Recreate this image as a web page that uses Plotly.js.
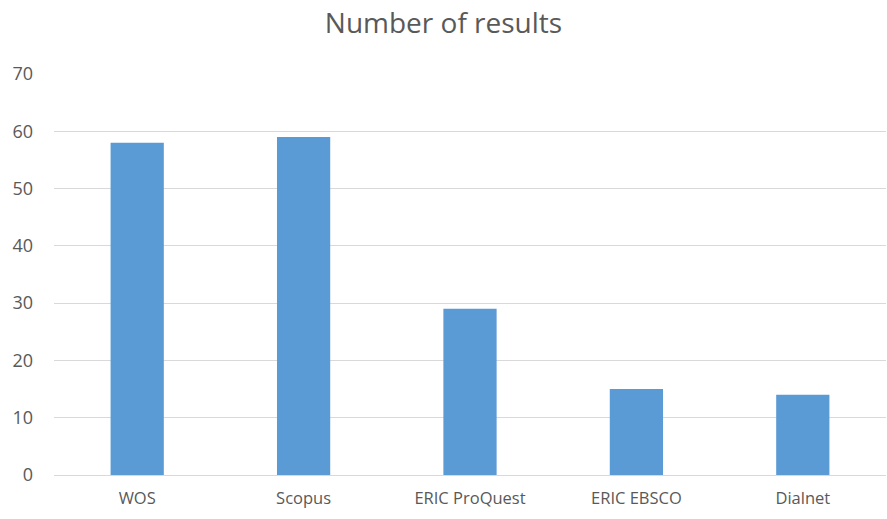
<!DOCTYPE html>
<html><head><meta charset="utf-8">
<script src="https://cdn.plot.ly/plotly-3.0.1.min.js"></script>
<style>body{margin:0}#c{width:887px;height:519px}</style>
</head><body><div id="c"></div>
<script>
var categories = ["WOS", "Scopus", "ERIC ProQuest", "ERIC EBSCO", "Dialnet"];
var results = [58, 59, 29, 15, 14];
var yTicks = [0, 10, 20, 30, 40, 50, 60, 70];

Plotly.newPlot("c", [{
  type: "bar", x: categories, y: results,
  marker: {color: "#5B9BD5"}, hoverinfo: "x+y"
}], {
  width: 887, height: 519,
  margin: {l: 54, r: 1, t: 74, b: 44},
  paper_bgcolor: "#fff", plot_bgcolor: "#fff",
  bargap: 0.68,
  font: {family: "Open Sans, sans-serif", color: "#595959", size: 16},
  title: {text: "Number of results", font: {size: 28, color: "#595959"}, x: 0.5, xanchor: "center", y: 0.955, yanchor: "middle"},
  xaxis: {showgrid: false, showline: true, linecolor: "#d9d9d9", linewidth: 1, ticks: "", ticklabelstandoff: 8, tickfont: {size: 16.5}},
  yaxis: {range: [0, 70], tickvals: yTicks, showgrid: true, gridcolor: "#d9d9d9", gridwidth: 1, zeroline: false, showline: false, ticks: "", ticklabelstandoff: 20, tickfont: {size: 18}},
  showlegend: false
}, {displayModeBar: false});
</script></body></html>
